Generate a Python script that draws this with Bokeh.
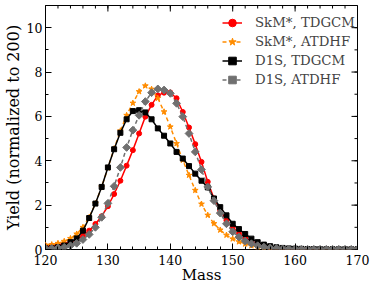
import math
from bokeh.plotting import figure
from bokeh.models import (ColumnDataSource, FixedTicker, Legend, LegendItem, Range1d)
from bokeh.embed import file_html
from bokeh.resources import INLINE

mass = list(range(120, 171))

skm_tdgcm = [0.15, 0.17, 0.2, 0.26, 0.33, 0.45, 0.62, 0.85, 1.15, 1.5,
             1.95, 2.5, 3.1, 3.78, 4.48, 5.23, 5.99, 6.52, 6.95, 7.07,
             7.08, 6.82, 6.2, 5.5, 4.75, 3.95, 3.05, 2.3, 1.76, 1.31,
             1.0, 0.72, 0.52, 0.36, 0.24, 0.16, 0.1, 0.07, 0.05, 0.03,
             0.02, 0.015, 0.012, 0.01, 0.01, 0.01, 0.01, 0.01, 0.01, 0.01, 0.01]
skm_atdhf = [0.2, 0.22, 0.28, 0.37, 0.5, 0.7, 1.0, 1.45, 2.07, 2.82,
             3.68, 4.55, 5.35, 6.05, 6.6, 7.12, 7.38, 7.23, 6.82, 6.21,
             5.53, 4.78, 4.03, 3.35, 2.67, 2.05, 1.55, 1.17, 0.88, 0.65,
             0.48, 0.35, 0.25, 0.17, 0.11, 0.07, 0.05, 0.03, 0.02, 0.015,
             0.01, 0.01, 0.01, 0.01, 0.01, 0.01, 0.01, 0.01, 0.01, 0.01, 0.01]
d1s_tdgcm = [0.05, 0.06, 0.1, 0.18, 0.33, 0.5, 0.85, 1.42, 2.07, 2.82,
             3.7, 4.52, 5.26, 5.87, 6.24, 6.28, 6.18, 5.87, 5.46, 5.13,
             4.78, 4.4, 4.1, 3.76, 3.42, 3.1, 2.8, 2.3, 1.91, 1.54,
             1.16, 0.92, 0.7, 0.49, 0.33, 0.22, 0.15, 0.1, 0.07, 0.05,
             0.04, 0.03, 0.02, 0.02, 0.015, 0.01, 0.01, 0.01, 0.01, 0.01, 0.01]
d1s_atdhf = [0.04, 0.05, 0.07, 0.1, 0.17, 0.28, 0.45, 0.68, 1.0, 1.45,
             2.08, 2.85, 3.7, 4.6, 5.38, 6.05, 6.67, 7.07, 7.24, 7.19,
             7.04, 6.59, 5.99, 5.23, 4.4, 3.6, 2.82, 2.2, 1.64, 1.16,
             0.8, 0.56, 0.38, 0.26, 0.17, 0.11, 0.07, 0.05, 0.03, 0.02,
             0.015, 0.01, 0.01, 0.01, 0.01, 0.01, 0.01, 0.01, 0.01, 0.01, 0.01]

series_labels = ["SkM*, TDGCM", "SkM*, ATDHF", "D1S, TDGCM", "D1S, ATDHF"]
x_ticks = [120, 130, 140, 150, 160, 170]
x_minor = list(range(120, 171, 2))
y_ticks = [0, 2, 4, 6, 8, 10]
y_minor = list(range(0, 12))
x_lo, x_hi = 120, 170
y_lo, y_hi = 0, 11

FONT = "DejaVu Serif"

p = figure(width=374, height=289, output_backend="svg", toolbar_location=None,
           x_range=Range1d(x_lo, x_hi), y_range=Range1d(y_lo, y_hi),
           min_border_left=40, min_border_right=17, min_border_top=5,
           min_border_bottom=40, background_fill_color="white",
           border_fill_color="white")
p.grid.visible = False
p.outline_line_color = "black"
p.outline_line_width = 1

src = ColumnDataSource(dict(m=mass, a=skm_tdgcm, b=skm_atdhf, c=d1s_tdgcm, d=d1s_atdhf))

r1l = p.line("m", "a", source=src, line_color="red", line_width=1.5)
r1m = p.scatter("m", "a", source=src, marker="circle", size=5, fill_color="red", line_color="red")
r2l = p.line("m", "b", source=src, line_color="darkorange", line_width=1.5, line_dash="4 3")
r2m = p.scatter("m", "b", source=src, marker="star", size=6, fill_color="darkorange", line_color="darkorange")
r3l = p.line("m", "c", source=src, line_color="black", line_width=1.5)
r3m = p.scatter("m", "c", source=src, marker="square", size=5, fill_color="black", line_color="black")
r4l = p.line("m", "d", source=src, line_color="#707070", line_width=1.5, line_dash="4 3")
r4m = p.scatter("m", "d", source=src, marker="square", angle=math.pi / 4, size=5.5,
                fill_color="#707070", line_color="#707070")

# mirrored inward ticks on the top and right edges (clipped to the frame)
p.scatter(x=x_ticks, y=[y_hi] * len(x_ticks), marker="dash", angle=math.pi / 2,
          size=12, line_color="black", line_width=1)
p.scatter(x=x_minor, y=[y_hi] * len(x_minor), marker="dash", angle=math.pi / 2,
          size=6, line_color="black", line_width=1)
p.scatter(x=[x_hi] * len(y_ticks), y=y_ticks, marker="dash",
          size=12, line_color="black", line_width=1)
p.scatter(x=[x_hi] * len(y_minor), y=y_minor, marker="dash",
          size=6, line_color="black", line_width=1)

def style_axis(ax, label_size):
    ax.major_tick_in = 6
    ax.major_tick_out = 0
    ax.minor_tick_in = 3
    ax.minor_tick_out = 0
    ax.axis_line_color = None
    ax.major_tick_line_color = "black"
    ax.minor_tick_line_color = "black"
    ax.major_label_text_font = FONT
    ax.major_label_text_font_size = "12.5px"
    ax.major_label_text_color = "black"
    ax.axis_label_text_font = FONT
    ax.axis_label_text_font_size = label_size
    ax.axis_label_text_font_style = "normal"
    ax.axis_label_text_color = "black"

p.xaxis.ticker = FixedTicker(ticks=x_ticks, minor_ticks=x_minor)
p.yaxis.ticker = FixedTicker(ticks=y_ticks, minor_ticks=y_minor)
style_axis(p.xaxis[0], "15px")
style_axis(p.yaxis[0], "16px")
p.xaxis.axis_label = "Mass"
p.yaxis.axis_label = "Yield (normalized to 200)"
p.xaxis.major_label_standoff = 5
p.yaxis.major_label_standoff = 3
p.xaxis.axis_label_standoff = -2
p.yaxis.axis_label_standoff = 1

legend = Legend(items=[
    LegendItem(label=series_labels[0], renderers=[r1l, r1m]),
    LegendItem(label=series_labels[1], renderers=[r2l, r2m]),
    LegendItem(label=series_labels[2], renderers=[r3l, r3m]),
    LegendItem(label=series_labels[3], renderers=[r4l, r4m]),
], location=(172, 155))
legend.label_text_font = FONT
legend.label_text_font_size = "13.3px"
legend.border_line_alpha = 0
legend.background_fill_alpha = 0
legend.glyph_width = 20
legend.glyph_height = 19
legend.label_height = 19
legend.label_standoff = 13
legend.spacing = 0
legend.padding = 5
legend.margin = 0
p.add_layout(legend, "center")

open("out.html", "w").write(file_html(p, INLINE))
